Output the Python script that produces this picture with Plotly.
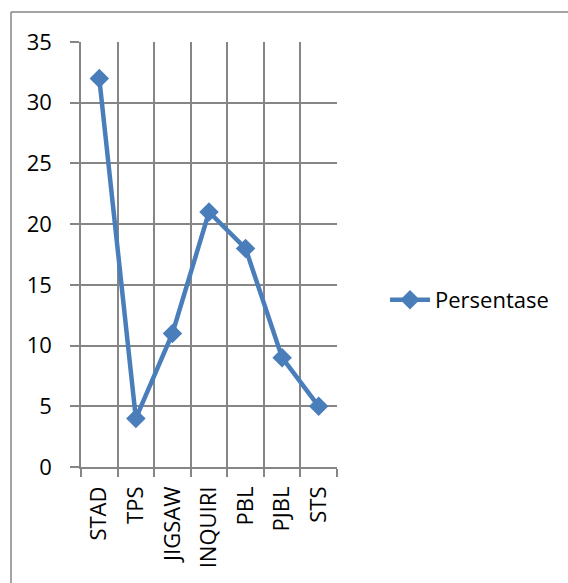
import plotly.graph_objects as go

# Model pembelajaran dan persentasenya
categories = ["STAD", "TPS", "JIGSAW", "INQUIRI", "PBL", "PJBL", "STS"]
persentase = [32, 4, 11, 21, 18, 9, 5]
y_ticks = [0, 5, 10, 15, 20, 25, 30, 35]

W, H = 568, 583
L, R, T, B = 81, 337, 42, 467  # plot area in pixels

blue = "#4A7EBB"
grey = "#868686"
font = dict(family="Open Sans, Liberation Sans, sans-serif", size=22, color="#000000")

fig = go.Figure()
fig.add_trace(go.Scatter(
    x=categories, y=persentase, name="Persentase",
    mode="lines+markers",
    line=dict(color=blue, width=4.5),
    marker=dict(symbol="diamond", size=15, color=blue),
))

pw, ph = R - L, B - T

fig.update_layout(
    width=W, height=H,
    margin=dict(l=L, r=W - R, t=T, b=H - B, pad=0),
    paper_bgcolor="white", plot_bgcolor="white",
    font=font,
    showlegend=True,
    legend=dict(x=(385 - L) / pw, y=(B - 300) / ph, xanchor="left", yanchor="middle",
                bgcolor="rgba(0,0,0,0)", font=font, itemwidth=40),
    xaxis=dict(
        type="category", tickson="boundaries", range=[-0.5, len(categories) - 0.5],
        showgrid=True, gridcolor=grey, gridwidth=1.5,
        showline=True, linecolor=grey, linewidth=1.5,
        ticks="outside", ticklen=8, tickcolor=grey, tickwidth=1.5,
        tickangle=-90, ticklabelstandoff=9, tickfont=font,
    ),
    yaxis=dict(
        range=[0, 35], tickvals=y_ticks,
        showgrid=True, gridcolor=grey, gridwidth=1.5,
        showline=True, linecolor=grey, linewidth=1.5, zeroline=False,
        ticks="outside", ticklen=9, tickcolor=grey, tickwidth=1.5,
        ticklabelstandoff=14, tickfont=font,
    ),
)

# Chart frame (top and left edges)
fig.add_shape(type="line", xref="paper", yref="paper",
              x0=(11 - L) / pw, x1=(W + 5 - L) / pw, y0=(B - 12) / ph, y1=(B - 12) / ph,
              line=dict(color=grey, width=1.5))
fig.add_shape(type="line", xref="paper", yref="paper",
              x0=(11 - L) / pw, x1=(11 - L) / pw, y0=(B - 12) / ph, y1=(B - H - 5) / ph,
              line=dict(color=grey, width=1.5))

fig.write_html("out.html")
